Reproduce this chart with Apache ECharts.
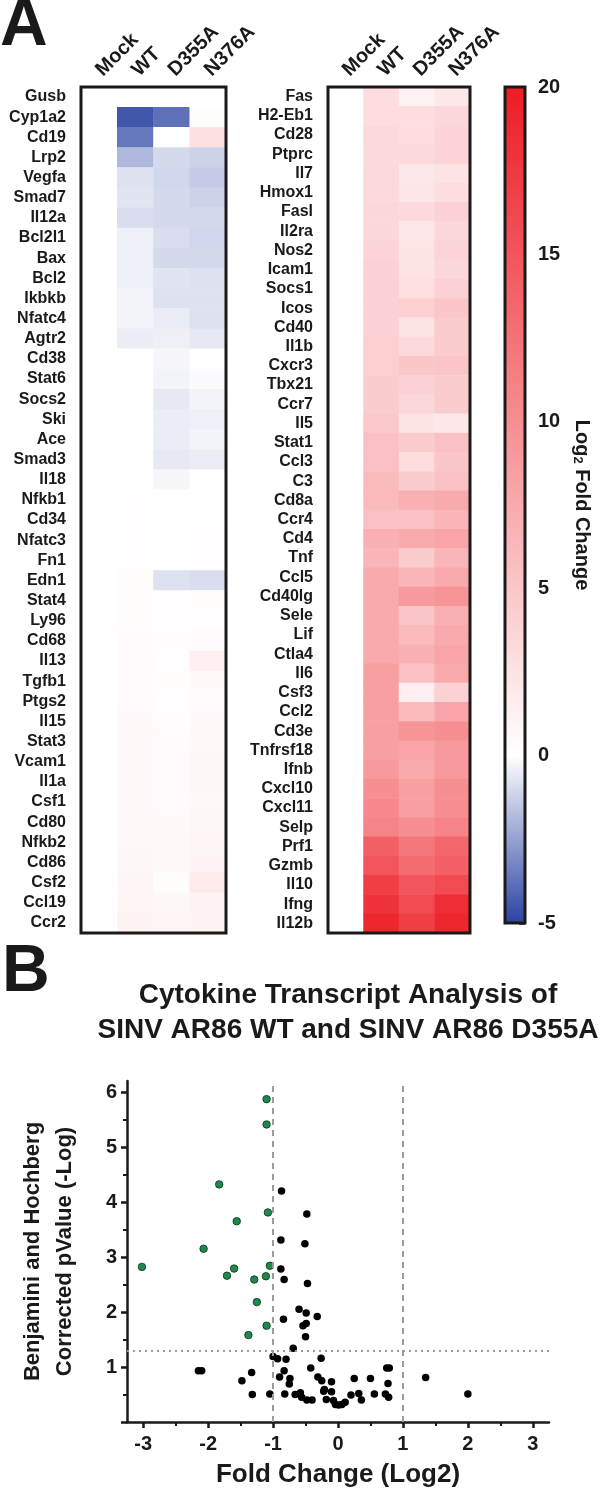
<!DOCTYPE html>
<html><head><meta charset="utf-8">
<script src="https://cdn.jsdelivr.net/npm/echarts@6/dist/echarts.min.js"></script>
<style>html,body{margin:0;padding:0;background:#fff}#c{width:600px;height:1494px}</style>
</head><body><div id="c"></div>
<script>
// ---------- Panel A data ----------
const columns = ['Mock', 'WT', 'D355A', 'N376A'];

const leftGenes = ['Gusb','Cyp1a2','Cd19','Lrp2','Vegfa','Smad7','Il12a','Bcl2l1','Bax','Bcl2','Ikbkb','Nfatc4','Agtr2','Cd38','Stat6','Socs2','Ski','Ace','Smad3','Il18','Nfkb1','Cd34','Nfatc3','Fn1','Edn1','Stat4','Ly96','Cd68','Il13','Tgfb1','Ptgs2','Il15','Stat3','Vcam1','Il1a','Csf1','Cd80','Nfkb2','Cd86','Csf2','Ccl19','Ccr2'];
const leftMock  = [0,0,0,0,0,0,0,0,0,0,0,0,0,0,0,0,0,0,0,0,0,0,0,0,0,0,0,0,0,0,0,0,0,0,0,0,0,0,0,0,0,0];
const leftWT    = [0,-4.5,-3.6,-1.9,-0.8,-0.7,-0.9,-0.4,-0.4,-0.4,-0.3,-0.3,-0.5,0,0,0,0,0,0,0.1,0.2,0.2,0.2,0.2,0.3,0.3,0.3,0.4,0.4,0.4,0.4,0.5,0.5,0.5,0.5,0.6,0.6,0.6,0.7,0.8,0.9,1.0];
const leftD355A = [0,-3.8,0,-1.0,-1.1,-1.0,-1.0,-0.9,-1.0,-0.7,-0.8,-0.5,-0.4,-0.2,-0.3,-0.6,-0.5,-0.5,-0.6,-0.2,0,0,0.1,0.1,-0.8,0.2,0.2,0.3,0.2,0.3,0.2,0.3,0.4,0.4,0.4,0.4,0.5,0.6,0.6,0.3,0.7,0.8];
const leftN376A = [0,0.3,2.6,-1.2,-1.4,-1.2,-1.0,-1.1,-1.0,-0.8,-0.8,-0.8,-0.6,0,-0.1,-0.3,-0.4,-0.3,-0.5,0,0,0.1,0.2,0.2,-0.9,0.3,0.2,0.4,1.3,0.5,0.4,0.5,0.6,0.7,0.7,0.6,0.7,0.8,1.0,1.8,1.0,1.0];

const rightGenes = ['Fas','H2-Eb1','Cd28','Ptprc','Il7','Hmox1','Fasl','Il2ra','Nos2','Icam1','Socs1','Icos','Cd40','Il1b','Cxcr3','Tbx21','Ccr7','Il5','Stat1','Ccl3','C3','Cd8a','Ccr4','Cd4','Tnf','Ccl5','Cd40lg','Sele','Lif','Ctla4','Il6','Csf3','Ccl2','Cd3e','Tnfrsf18','Ifnb','Cxcl10','Cxcl11','Selp','Prf1','Gzmb','Il10','Ifng','Il12b'];
const rightMock  = [0,0,0,0,0,0,0,0,0,0,0,0,0,0,0,0,0,0,0,0,0,0,0,0,0,0,0,0,0,0,0,0,0,0,0,0,0,0,0,0,0,0,0,0];
const rightWT    = [3,3,3.3,3.2,3.3,3.3,3.5,3.5,3.8,4,4,4,4,4.3,4.3,4.5,4.5,4.8,5.5,5.5,6,6,5.5,7,6.5,7.5,7.5,7.5,7.5,7.5,8.5,8.5,8.5,8.5,8.5,9,10,10.5,11,14,15,17,18,19];
const rightD355A = [1.2,3,3,3.3,2,2.2,3.3,2,2.3,2.5,2.8,4.2,2.5,3.3,5,4,3.5,2.5,4.5,3,4.5,7,5.5,7.5,4.5,6.5,9,5,6,7,5.5,1.5,6,9.5,8,7.5,8.5,8.5,10,12,13,15,16,17];
const rightN376A = [2,3.5,3.8,3.8,2.5,3,4,3.5,3.8,3.5,4,5,4.5,4.5,5.2,4.5,4.5,2,5.5,5,5.5,7.5,6.5,8,6.5,7.5,9.5,7,7.5,8,7.5,4,8,10,9,9,10,10,11,13.5,14,16,18.5,19];

// ---------- Panel B data ----------
const sigX = [-1.10,-1.10,-1.83,-1.08,-1.56,-2.07,-3.02,-1.05,-1.60,-1.71,-1.11,-1.29,-1.25,-1.10,-1.38];
const sigY = [5.87,5.41,4.32,3.81,3.65,3.15,2.82,2.84,2.79,2.66,2.65,2.59,2.18,1.75,1.58];
const nsX = [-0.87,-0.48,-0.88,-0.51,-0.88,-0.83,-0.47,-0.60,-0.49,-0.32,-0.84,-0.49,-0.54,-0.50,-0.69,-1.00,-0.93,-0.80,-0.26,-2.15,-2.10,-1.33,-0.83,-0.42,0.75,0.79,-0.90,-0.74,-0.31,-0.25,-0.10,0.25,0.50,1.35,-1.48,-0.75,0.77,-0.21,-0.22,-0.10,-1.32,-1.05,-0.82,-0.66,-0.58,-0.56,-0.48,-0.40,-0.18,-0.07,-0.04,0.01,0.06,0.11,0.20,0.32,0.36,0.56,0.73,0.78,2.00];
const nsY = [4.20,3.78,3.31,3.24,2.78,2.59,2.52,2.05,1.98,1.92,1.87,1.79,1.75,1.55,1.34,1.19,1.15,1.14,1.16,0.93,0.93,0.90,0.93,0.98,0.98,0.98,0.82,0.79,0.82,0.75,0.73,0.79,0.79,0.81,0.75,0.69,0.70,0.59,0.56,0.55,0.50,0.51,0.51,0.50,0.53,0.45,0.40,0.40,0.41,0.39,0.32,0.31,0.32,0.36,0.49,0.52,0.40,0.51,0.51,0.45,0.51];
const xTicks = [-3,-2,-1,0,1,2,3];
const xMinorTicks = [-2.5,-1.5,-0.5,0.5,1.5,2.5];
const yTicks = [0,1,2,3,4,5,6];
const yLabels = [1,2,3,4,5,6];
const yMinorTicks = [0.5,1.5,2.5,3.5,4.5,5.5];
const fcThresholds = [-1, 1];
const pThreshold = 1.3;

// ---------- build ----------
const FONT = '"Liberation Sans", Arial, Helvetica, sans-serif';
const INK = '#1a1a1a';

function heatData(cols) {
  const out = [];
  cols.forEach((arr, c) => arr.forEach((v, r) => out.push([c, r, v])));
  return out;
}
function zip(xs, ys) { return xs.map((x, i) => [x, ys[i]]); }

const chart = echarts.init(document.getElementById('c'), null, {renderer: 'canvas', width: 600, height: 1494});

const catX = (gi) => ({
  type: 'category', gridIndex: gi, data: columns, position: 'top',
  axisLine: {show: false}, axisTick: {show: false}, splitLine: {show: false},
  axisLabel: {rotate: -45, margin: 14, fontSize: 20, fontWeight: 'bold', color: INK, fontFamily: FONT, interval: 0}
});
const catY = (gi, genes) => ({
  type: 'category', gridIndex: gi, data: genes, inverse: true,
  axisLine: {show: false}, axisTick: {show: false}, splitLine: {show: false},
  axisLabel: {margin: 15, fontSize: 16, fontWeight: 'bold', color: INK, fontFamily: FONT, interval: 0}
});

const option = {
  animation: false,
  backgroundColor: '#fff',
  textStyle: {fontFamily: FONT},
  title: [
    {text: 'A', left: 0, top: -6, padding: 0, textStyle: {fontSize: 66, fontWeight: 'bold', color: INK, fontFamily: FONT}},
    {text: 'B', left: 2, top: 940, padding: 0, textStyle: {fontSize: 66, fontWeight: 'bold', color: INK, fontFamily: FONT}},
    {text: 'Cytokine Transcript Analysis of\nSINV AR86 WT and SINV AR86 D355A', left: 348, top: 978, padding: 0, textAlign: 'center',
     textStyle: {fontSize: 28, lineHeight: 35, fontWeight: 'bold', color: INK, fontFamily: FONT}}
  ],
  visualMap: {
    type: 'continuous', min: -5, max: 20, seriesIndex: [0, 1], calculable: false,
    orient: 'vertical', left: 505, top: 87, itemWidth: 20, itemHeight: 836, padding: 0,
    text: null, hoverLink: false,
    inRange: {color: ['#2b43a2', '#ffffff', '#fbc6c8', '#f68e92', '#f2555b', '#ed1c24']}
  },
  grid: [
    {left: 81, top: 87, width: 145, height: 846, show: true, borderColor: INK, borderWidth: 3, backgroundColor: 'transparent', z: 10},
    {left: 328, top: 87, width: 142, height: 846, show: true, borderColor: INK, borderWidth: 3, backgroundColor: 'transparent', z: 10},
    {left: 505, top: 87, width: 20, height: 836, show: true, borderColor: INK, borderWidth: 3, backgroundColor: 'transparent', z: 10},
    {left: 127, top: 1081, width: 422, height: 341, show: false}
  ],
  xAxis: [
    catX(0), catX(1),
    {type: 'value', gridIndex: 2, show: false, min: 0, max: 1},
    {type: 'value', gridIndex: 3, min: -3.25, max: 3.25, position: 'bottom',
     axisLine: {show: true, onZero: false, lineStyle: {color: INK, width: 2.5}},
     axisTick: {show: true, customValues: xTicks, length: 6, lineStyle: {color: INK, width: 2.5}},
     axisLabel: {customValues: xTicks, margin: 12, fontSize: 20, fontWeight: 'bold', color: INK, fontFamily: FONT},
     splitLine: {show: false},
     name: 'Fold Change (Log2)', nameLocation: 'middle', nameGap: 40,
     nameTextStyle: {fontSize: 26, fontWeight: 'bold', color: INK, fontFamily: FONT}},
    {type: 'value', gridIndex: 3, min: -3.25, max: 3.25, position: 'bottom',
     axisLine: {show: false, onZero: false}, axisLabel: {show: false}, splitLine: {show: false},
     axisTick: {show: true, customValues: xMinorTicks, length: 4, lineStyle: {color: INK, width: 2}}}
  ],
  yAxis: [
    catY(0, leftGenes), catY(1, rightGenes),
    {type: 'value', gridIndex: 2, min: -5, max: 20, interval: 5, position: 'right',
     axisLine: {show: false, onZero: false}, splitLine: {show: false},
     axisTick: {show: true, inside: true, length: 6, lineStyle: {color: INK, width: 2.5}},
     axisLabel: {margin: 13, fontSize: 20, fontWeight: 'bold', color: INK, fontFamily: FONT},
     name: 'Log{s|2} Fold Change', nameLocation: 'middle', nameRotate: -90, nameGap: 46,
     nameTextStyle: {fontSize: 20, fontWeight: 'bold', color: INK, fontFamily: FONT,
       rich: {s: {fontSize: 13, fontWeight: 'bold', verticalAlign: 'bottom', padding: [8, 0, 0, 0], fontFamily: FONT}}}},
    {type: 'value', gridIndex: 3, min: 0, max: 6.2, position: 'left',
     axisLine: {show: true, onZero: false, lineStyle: {color: INK, width: 2.5}},
     axisTick: {show: true, customValues: yTicks, length: 6, lineStyle: {color: INK, width: 2.5}},
     axisLabel: {customValues: yLabels, margin: 10, fontSize: 20, fontWeight: 'bold', color: INK, fontFamily: FONT},
     splitLine: {show: false},
     name: 'Benjamini and Hochberg\nCorrected pValue (-Log)', nameLocation: 'middle', nameGap: 46, nameRotate: 90,
     nameTextStyle: {fontSize: 22, lineHeight: 32, fontWeight: 'bold', color: INK, fontFamily: FONT}},
    {type: 'value', gridIndex: 3, min: 0, max: 6.2, position: 'left',
     axisLine: {show: false, onZero: false}, axisLabel: {show: false}, splitLine: {show: false},
     axisTick: {show: true, customValues: yMinorTicks, length: 4, lineStyle: {color: INK, width: 2}}}
  ],
  series: [
    {type: 'heatmap', xAxisIndex: 0, yAxisIndex: 0, data: heatData([leftMock, leftWT, leftD355A, leftN376A]),
     itemStyle: {borderWidth: 0}, emphasis: {disabled: true}, progressive: 0},
    {type: 'heatmap', xAxisIndex: 1, yAxisIndex: 1, data: heatData([rightMock, rightWT, rightD355A, rightN376A]),
     itemStyle: {borderWidth: 0}, emphasis: {disabled: true}, progressive: 0},
    {type: 'scatter', xAxisIndex: 3, yAxisIndex: 3, data: [], z: 1, silent: true,
     markLine: {silent: true, symbol: 'none', label: {show: false}, animation: false,
       lineStyle: {color: '#9b9b9b', width: 2, type: [6, 5]},
       data: fcThresholds.map(v => ({xAxis: v})).concat([{yAxis: pThreshold, lineStyle: {type: [2, 4], color: '#9b9b9b', width: 2}}])}},
    {type: 'scatter', xAxisIndex: 3, yAxisIndex: 3, data: zip(nsX, nsY), symbolSize: 7.5, z: 3,
     itemStyle: {color: '#000', opacity: 1}, emphasis: {disabled: true}},
    {type: 'scatter', xAxisIndex: 3, yAxisIndex: 3, data: zip(sigX, sigY), symbolSize: 7.5, z: 4,
     itemStyle: {color: '#1d8a4b', borderColor: '#0b2e16', borderWidth: 0.8, opacity: 1}, emphasis: {disabled: true}}
  ]
};
chart.setOption(option);
</script>
</body></html>
